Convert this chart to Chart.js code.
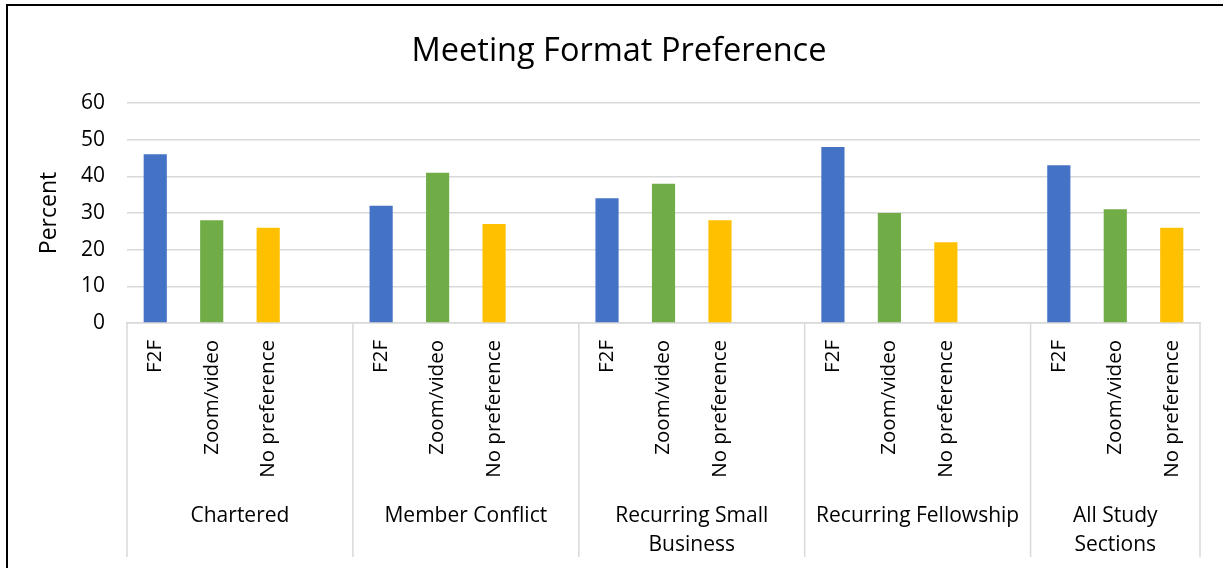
<!DOCTYPE html>
<html lang="en">
<head>
<meta charset="UTF-8">
<title>Meeting Format Preference</title>
<script src="https://cdn.jsdelivr.net/npm/chart.js"></script>
<style>
  html, body { margin: 0; padding: 0; background: #fff; overflow: hidden; }
  #wrap { position: relative; width: 1223px; height: 568px; }
  #myChart { display: block; }
  /* the black chart frame, only left and top edges are visible */
  #frame { position: absolute; left: 6px; top: 4px; width: 1400px; height: 800px;
           border-left: 2px solid #000; border-top: 2px solid #000; pointer-events: none; }
</style>
</head>
<body>
<div id="wrap">
  <canvas id="myChart" width="1223" height="568"></canvas>
  <div id="frame"></div>
</div>

<script>
  // data
  const groups = ['Chartered', 'Member Conflict', 'Recurring Small Business', 'Recurring Fellowship', 'All Study Sections']
  const formats = ['F2F', 'Zoom/video', 'No preference']
  const f2f = [46, 32, 34, 48, 43]
  const zoomVideo = [28, 41, 38, 30, 31]
  const noPreference = [26, 27, 28, 22, 26]
  const yTicks = [0, 10, 20, 30, 40, 50, 60]
  const chartTitle = 'Meeting Format Preference'

  const formatColors = ['#4472C4', '#70AD47', '#FFC000']
  const fontFamily = "'Open Sans', sans-serif"

  // flatten into one category axis, with an empty slot after every group but the last
  const labels = []
  const values = []
  const colors = []
  const spans = []
  groups.forEach(function (g, i) {
    const start = labels.length
    const row = [f2f[i], zoomVideo[i], noPreference[i]]
    formats.forEach(function (f, j) {
      labels.push(f)
      values.push(row[j])
      colors.push(formatColors[j])
    })
    if (i < groups.length - 1) {
      labels.push('')
      values.push(null)
      colors.push('rgba(0,0,0,0)')
    }
    spans.push({ name: g, start: start, end: labels.length })
  })

  function wrapText(ctx, text, maxWidth) {
    const words = text.split(' ')
    const lines = []
    let line = ''
    words.forEach(function (w) {
      const test = line ? line + ' ' + w : w
      if (line && ctx.measureText(test).width > maxWidth) {
        lines.push(line)
        line = w
      } else {
        line = test
      }
    })
    if (line) lines.push(line)
    return lines
  }

  // title is centred on the whole frame (Excel style), not on the canvas minus padding
  const frameTitle = {
    id: 'frameTitle',
    afterDraw(chart) {
      const ctx = chart.ctx
      ctx.save()
      ctx.fillStyle = '#000'
      ctx.font = '32.5px ' + fontFamily
      ctx.textAlign = 'center'
      ctx.textBaseline = 'middle'
      ctx.fillText(chartTitle, 619, 52)
      ctx.restore()
    }
  }

  // second level of the category axis: group separators and group names
  const groupAxis = {
    id: 'groupAxis',
    afterDraw(chart) {
      const ctx = chart.ctx
      const x = chart.scales.x
      const top = chart.chartArea.bottom
      const bottom = x.bottom
      ctx.save()
      ctx.strokeStyle = '#D9D9D9'
      ctx.lineWidth = 1.5
      const edges = [x.getPixelForValue(-0.5)]
      spans.forEach(function (s) { edges.push(x.getPixelForValue(s.end - 0.5)) })
      edges.forEach(function (px) {
        ctx.beginPath()
        ctx.moveTo(px, top)
        ctx.lineTo(px, bottom)
        ctx.stroke()
      })

      ctx.fillStyle = '#000'
      ctx.font = '21px ' + fontFamily
      ctx.textAlign = 'center'
      ctx.textBaseline = 'middle'
      spans.forEach(function (s) {
        const left = x.getPixelForValue(s.start - 0.5)
        const right = x.getPixelForValue(s.end - 0.5)
        const lines = wrapText(ctx, s.name, right - left - 10)
        lines.forEach(function (l, k) {
          ctx.fillText(l, (left + right) / 2, top + 193 + k * 29)
        })
      })
      ctx.restore()
    }
  }

  const config = {
    type: 'bar',
    data: {
      labels: labels,
      datasets: [{
        data: values,
        backgroundColor: colors,
        borderWidth: 0,
        barPercentage: 0.41,
        categoryPercentage: 1
      }]
    },
    options: {
      responsive: false,
      animation: false,
      devicePixelRatio: 1,
      layout: { padding: { left: 0, right: 23, top: 103, bottom: 11 } },
      plugins: {
        legend: { display: false },
        tooltip: { enabled: false },
        title: { display: false }
      },
      scales: {
        x: {
          grid: { display: false, drawTicks: false },
          border: { display: true, color: '#D9D9D9', width: 1.5 },
          ticks: {
            color: '#000',
            font: { family: fontFamily, size: 20.5 },
            minRotation: 90,
            maxRotation: 90,
            autoSkip: false,
            padding: 17
          },
          afterFit(scale) { scale.height = 234 }
        },
        y: {
          min: 0,
          max: 60,
          grid: { color: '#D9D9D9', lineWidth: 1.5, drawTicks: false },
          border: { display: false },
          afterBuildTicks(scale) { scale.ticks = yTicks.map(v => ({ value: v })) },
          ticks: {
            color: '#000',
            font: { family: fontFamily, size: 21 },
            padding: 22
          },
          title: {
            display: true,
            text: 'Percent',
            color: '#000',
            font: { family: fontFamily, size: 23 },
            padding: { top: 36, bottom: 0 }
          },
          afterFit(scale) { scale.width = 127 }
        }
      }
    },
    plugins: [groupAxis, frameTitle]
  }

  const myChart = new Chart(document.getElementById('myChart'), config)
</script>
</body>
</html>
